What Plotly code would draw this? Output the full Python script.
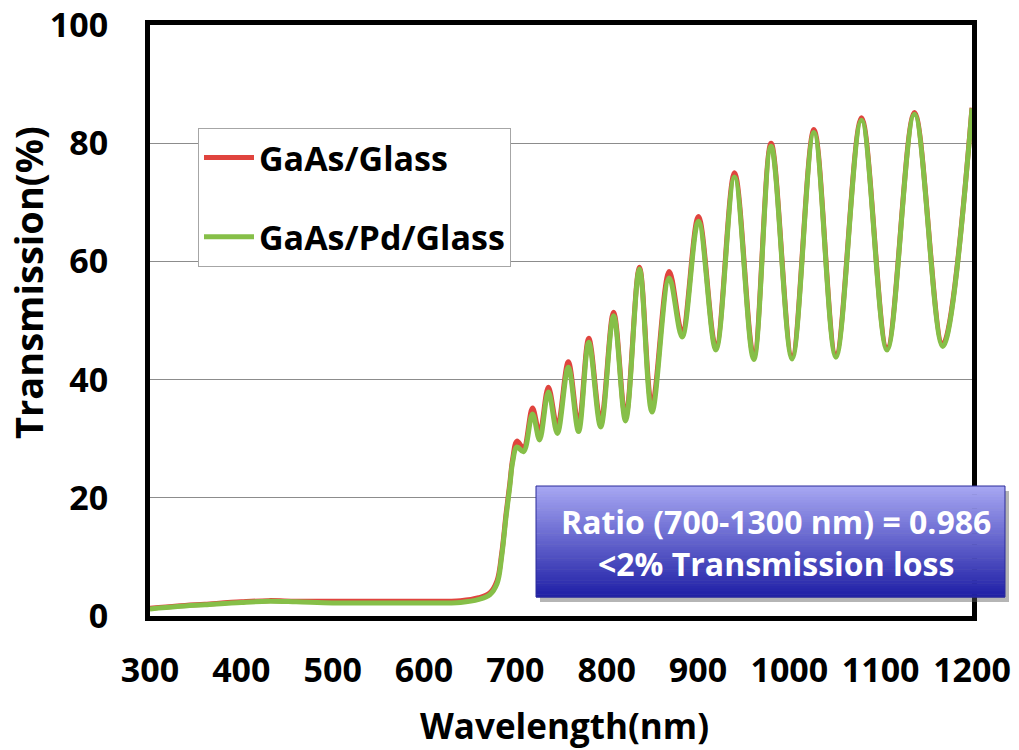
import plotly.graph_objects as go

# ---------------- data ----------------
wavelength = [300, 330, 360, 400, 430, 460, 500, 550, 600, 640, 660, 672, 680, 685, 690, 694, 697,
              701.8, 709, 718.8, 726.5, 736.2, 746, 758, 769.2, 780.4, 793.5, 807.6, 820.7,
              835.9, 849.6, 868.5, 882.6, 900.5, 919.6, 940, 961, 980, 1003, 1027, 1051,
              1079, 1107, 1137, 1168, 1200]

t_gaas_glass = [1.3, 1.7, 2.0, 2.4, 2.6, 2.5, 2.5, 2.5, 2.5, 2.6, 3.1, 3.9, 6.0, 10.5, 17.5, 22.5, 26.5,
                29.6, 28.4, 35.2, 30.9, 38.7, 32.0, 43.0, 32.3, 47.0, 32.9, 51.4, 33.7,
                59.0, 35.6, 58.3, 48.0, 67.6, 45.5, 75.0, 44.0, 80.0, 44.0, 82.3, 44.3,
                84.3, 45.4, 85.2, 46.0, 86.0]

t_gaas_pd_glass = [1.2, 1.6, 1.9, 2.3, 2.5, 2.4, 2.2, 2.2, 2.2, 2.3, 2.8, 3.6, 5.5, 10.0, 17.0, 22.0, 26.0,
                   28.6, 27.8, 34.2, 29.8, 37.9, 30.9, 42.1, 31.2, 46.3, 32.0, 50.8, 33.0,
                   58.7, 34.5, 57.2, 47.2, 66.8, 45.0, 74.3, 43.4, 79.5, 43.5, 81.8, 43.8,
                   83.9, 45.0, 84.9, 45.6, 85.9]

series_names = ["GaAs/Glass", "GaAs/Pd/Glass"]
x_ticks = [300, 400, 500, 600, 700, 800, 900, 1000, 1100, 1200]
y_ticks = [0, 20, 40, 60, 80, 100]
box_lines = ["Ratio (700-1300 nm) = 0.986", "<2% Transmission loss"]

# ---------------- styling ----------------
W, H = 1019, 750
ML, MR, MT, MB = 150, 47, 25, 134
PW, PH = W - ML - MR, H - MT - MB
FONT = "Open Sans"
RED = "#e0443e"
GREEN = "#86bf48"


def px_x(px):
    return (px - ML) / PW


def px_y(py):
    return (H - MB - py) / PH


fig = go.Figure()
fig.add_trace(go.Scatter(x=wavelength, y=t_gaas_glass, name=series_names[0], mode="lines",
                         line=dict(color=RED, width=5, shape="spline", smoothing=1.0),
                         legendgroup="a"))
fig.add_trace(go.Scatter(x=wavelength, y=t_gaas_pd_glass, name=series_names[1], mode="lines",
                         line=dict(color=GREEN, width=5, shape="spline", smoothing=1.0),
                         legendgroup="b"))

shapes = []
# shadow of the text box
bx0, bx1, by0, by1 = 536, 1005, 486, 597
shapes.append(dict(type="rect", xref="paper", yref="paper",
                   x0=px_x(bx0 + 4), x1=px_x(bx1 + 4), y0=px_y(by1 + 5), y1=px_y(by0 + 5),
                   fillcolor="rgba(90,90,90,0.45)", line=dict(width=0), layer="above"))
# gradient fill via thin strips
n = 40
top = (166, 166, 242)
bot = (32, 32, 166)
for i in range(n):
    f = i / (n - 1)
    c = tuple(int(round(top[k] + (bot[k] - top[k]) * f)) for k in range(3))
    ya = by0 + (by1 - by0) * i / n
    yb = by0 + (by1 - by0) * (i + 1) / n
    shapes.append(dict(type="rect", xref="paper", yref="paper",
                       x0=px_x(bx0), x1=px_x(bx1), y0=px_y(yb + 0.5), y1=px_y(ya),
                       fillcolor="rgb(%d,%d,%d)" % c, line=dict(width=0), layer="above"))
shapes.append(dict(type="rect", xref="paper", yref="paper",
                   x0=px_x(bx0), x1=px_x(bx1), y0=px_y(by1), y1=px_y(by0),
                   fillcolor="rgba(0,0,0,0)", line=dict(width=1, color="#2a2a9a"), layer="above"))

annotations = [
    dict(text=box_lines[0], xref="paper", yref="paper", x=px_x(776), y=px_y(521),
         showarrow=False, xanchor="center", yanchor="middle",
         font=dict(family=FONT, size=32, color="white", weight="bold")),
    dict(text=box_lines[1], xref="paper", yref="paper", x=px_x(776), y=px_y(563),
         showarrow=False, xanchor="center", yanchor="middle",
         font=dict(family=FONT, size=32, color="white", weight="bold")),
    dict(text="Transmission(%)", xref="paper", yref="paper", x=px_x(28), y=px_y(283),
         showarrow=False, xanchor="center", yanchor="middle", textangle=-90,
         font=dict(family=FONT, size=38, color="black", weight="bold")),
    dict(text="Wavelength(nm)", xref="paper", yref="paper", x=px_x(564), y=px_y(725),
         showarrow=False, xanchor="center", yanchor="middle",
         font=dict(family=FONT, size=35, color="black", weight="bold")),
]

fig.update_layout(
    width=W, height=H,
    margin=dict(l=ML, r=MR, t=MT, b=MB, pad=0, autoexpand=False),
    paper_bgcolor="white", plot_bgcolor="white",
    showlegend=True,
    legend=dict(x=px_x(198), y=px_y(128), xanchor="left", yanchor="top",
                bgcolor="white", bordercolor="#a6a6a6", borderwidth=1,
                font=dict(family=FONT, size=34, color="black", weight="bold"),
                tracegroupgap=32, itemwidth=50),
    shapes=shapes,
    annotations=annotations,
)
fig.update_xaxes(range=[300, 1200], tickvals=x_ticks, showgrid=False, zeroline=False,
                 showline=True, mirror=True, linecolor="black", linewidth=5, ticks="",
                 ticklabelstandoff=20, automargin=False,
                 tickfont=dict(family=FONT, size=34, color="black", weight="bold"))
fig.update_yaxes(range=[0, 100], tickvals=y_ticks, showgrid=True, gridcolor="#8c8c8c", gridwidth=1,
                 zeroline=False, showline=True, mirror=True, linecolor="black", linewidth=5,
                 ticks="", ticklabelstandoff=30, automargin=False,
                 tickfont=dict(family=FONT, size=34, color="black", weight="bold"))

fig.write_html("out.html")
